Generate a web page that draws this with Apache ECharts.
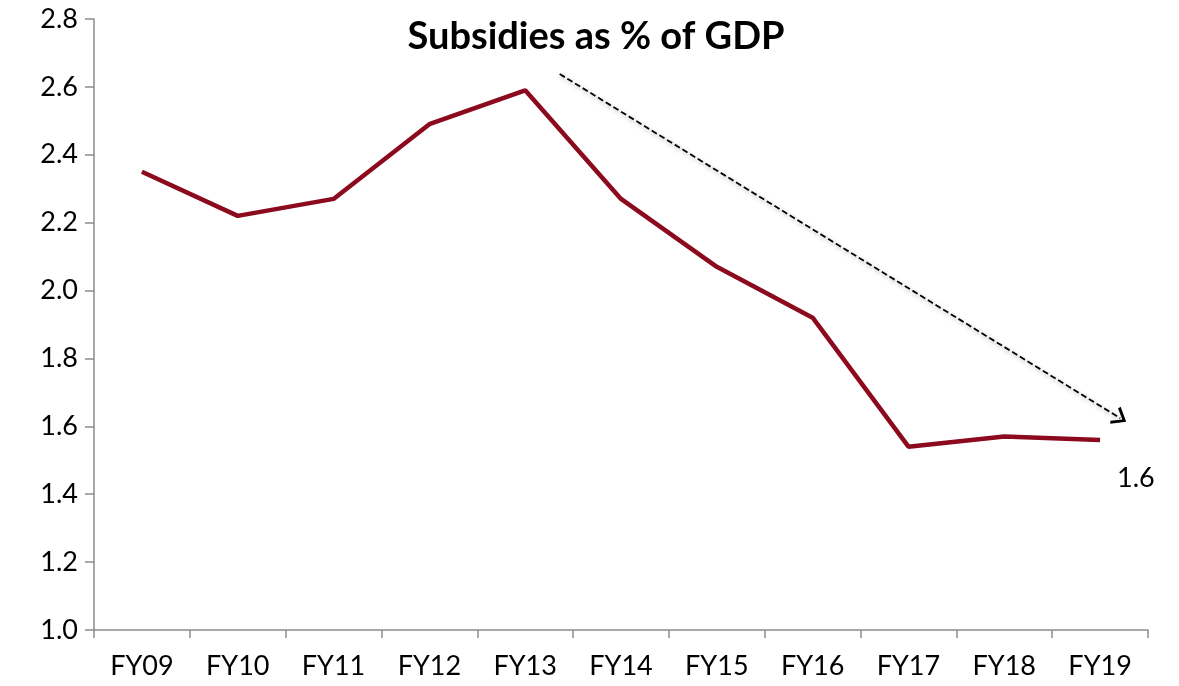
<!DOCTYPE html>
<html>
<head>
<meta charset="utf-8">
<script src="https://cdn.jsdelivr.net/npm/echarts@6/dist/echarts.min.js"></script>
<style>html,body{margin:0;padding:0;background:#fff}#c{width:1179px;height:686px}</style>
</head>
<body>
<div id="c"></div>
<script>
const categories = ['FY09','FY10','FY11','FY12','FY13','FY14','FY15','FY16','FY17','FY18','FY19'];
const subsidies = [2.35, 2.22, 2.27, 2.49, 2.59, 2.27, 2.07, 1.92, 1.54, 1.57, 1.56];
const lastLabel = '1.6';
const trendArrow = [[4.36, 2.638], [10.21, 1.624]];
const titleText = 'Subsidies as % of GDP';

const FONT = 'Lato, "Open Sans", sans-serif';
const chart = echarts.init(document.getElementById('c'));
chart.setOption({
  backgroundColor: '#fff',
  animation: false,
  title: {
    text: titleText, left: 591, top: 13, textAlign: 'center',
    textStyle: { fontFamily: FONT, fontWeight: 'bold', fontSize: 38, color: '#000' }
  },
  grid: { left: 94, right: 31, top: 19, bottom: 56, containLabel: false },
  xAxis: [{
    type: 'category', data: categories, boundaryGap: true,
    axisLine: { lineStyle: { color: '#8c8c8c', width: 1.5 } },
    axisTick: { show: true, length: 8, lineStyle: { color: '#8c8c8c', width: 1.5 } },
    axisLabel: { fontFamily: FONT, fontSize: 27, color: '#000', margin: 23 },
    splitLine: { show: false }
  }, {
    type: 'value', min: -0.5, max: 10.5, show: false
  }],
  yAxis: {
    type: 'value', min: 1.0, max: 2.8, interval: 0.2,
    axisLine: { show: true, onZero: false, lineStyle: { color: '#8c8c8c', width: 1.5 } },
    axisTick: { show: true, length: 9, lineStyle: { color: '#8c8c8c', width: 1.5 } },
    axisLabel: { fontFamily: FONT, fontSize: 27, color: '#000', margin: 16,
      formatter: v => v.toFixed(1) },
    splitLine: { show: false }
  },
  series: [{
    type: 'line', data: subsidies, xAxisIndex: 0,
    symbol: 'none', lineStyle: { color: '#8B0A1E', width: 4.5 },
    label: { show: false },
    endLabel: { show: true, formatter: () => lastLabel, fontFamily: FONT, fontSize: 27,
      color: '#000', offset: [7, 38], distance: 10 }
  }, {
    type: 'line', xAxisIndex: 1, data: [], symbol: 'none',
    markLine: {
      silent: true, animation: false,
      symbol: ['none', 'path://M5,0 L10,9 L8.6,10 L5,3.2 L1.4,10 L0,9 Z'],
      symbolSize: [20, 14],
      lineStyle: { color: '#000', type: [6, 3], width: 1.8,
        shadowColor: 'rgba(0,0,0,0.35)', shadowBlur: 4, shadowOffsetX: 1, shadowOffsetY: 2 },
      itemStyle: { color: '#000' },
      label: { show: false },
      data: [[{ coord: trendArrow[0] }, { coord: trendArrow[1] }]]
    }
  }]
});
</script>
</body>
</html>
